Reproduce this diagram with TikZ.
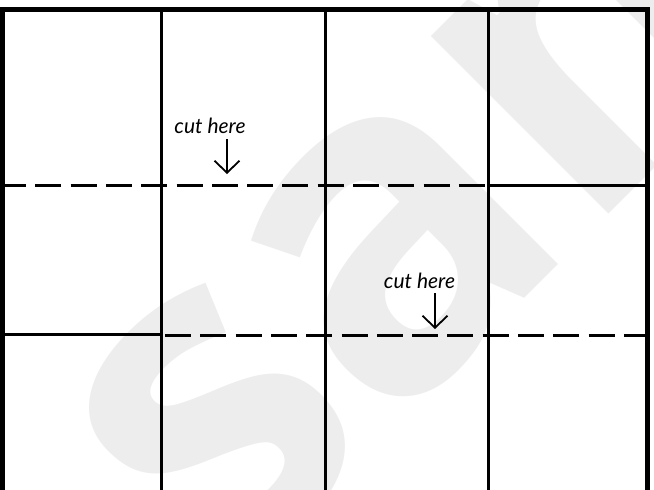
\documentclass[tikz,border=0pt]{standalone}
\usepackage{fontspec}
\setmainfont{Lato}
\newfontfamily\wmfont{Open Sans}
\usetikzlibrary{arrows.meta}
\definecolor{wmgray}{HTML}{EDEDED}
\tikzset{
  gridline/.style={line width=3pt},
  framestroke/.style={line width=5pt, line join=miter},
  cutline/.style={line width=3pt, dash pattern=on 26pt off 9.3pt},
  cutlabel/.style={font=\itshape\fontsize{21}{21}\selectfont, inner sep=0pt, anchor=base},
  cutarrow/.style={line width=1.8pt, -{Straight Barb[length=12pt,width=25pt,line width=1.8pt]}},
  watermark/.style={rotate=45, anchor=base west, text=wmgray, inner sep=0pt,
    font=\wmfont\bfseries\fontsize{460}{460}\selectfont},
}
\begin{document}
\begin{tikzpicture}[x=1pt,y=-1pt]
\useasboundingbox (0,0) rectangle (654,490);
\clip (0,0) rectangle (654,490);
\fill[white] (0,0) rectangle (654,490);
% watermark
\node[watermark] (wm) at (225,598) {sample};
% frame
\draw[framestroke] (2.5,600) -- (2.5,9.5) -- (647.5,9.5) -- (647.5,600);
% vertical grid lines
\draw[gridline] (161.5,12) -- (161.5,490);
\draw[gridline] (325.5,12) -- (325.5,490);
\draw[gridline] (488.5,12) -- (488.5,490);
% first horizontal line
\draw[cutline] (0,185.5) -- (486,185.5);
\draw[gridline] (488,185) -- (647,185);
% second horizontal line
\draw[gridline] (0,334.5) -- (161.5,334.5);
\draw[cutline] (165,335.5) -- (650,335.5);
% labels and arrows
\node[cutlabel] (c1) at (210,133) {cut here};
\coordinate (c1s) at (227,139);
\coordinate (c1e) at (227,174);
\draw[cutarrow] (c1s) -- (c1e);
\node[cutlabel] (c2) at (419.5,288) {cut here};
\coordinate (c2s) at (435,293);
\coordinate (c2e) at (435,329);
\draw[cutarrow] (c2s) -- (c2e);
\end{tikzpicture}
\end{document}
